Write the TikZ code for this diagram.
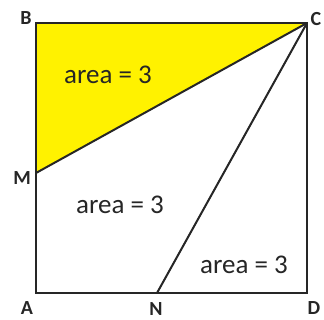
\documentclass[tikz,border=0pt]{standalone}
\usepackage{fontspec}
\setmainfont{Carlito}[BoldFont={Carlito Bold}]
\begin{document}
\begin{tikzpicture}[x=1pt,y=1pt,
  edge/.style={draw=black!85,line width=2.6pt,line join=miter},
  inner/.style={draw=black!85,line width=2pt},
  lbl/.style={font=\fontsize{20}{20}\selectfont\bfseries,text=black!85,inner sep=0pt},
  areatxt/.style={font=\fontsize{27}{27}\selectfont,text=black!85,inner sep=0pt}]
\useasboundingbox (0,0) rectangle (324,320);
\coordinate (A) at (36,27);
\coordinate (B) at (36,297);
\coordinate (C) at (307,297);
\coordinate (D) at (307,27);
\coordinate (M) at (36,147);
\coordinate (N) at (157,27);
\fill[yellow] (B) -- (C) -- (M) -- cycle;
\draw[inner] (M) -- (C);
\draw[inner] (N) -- (C);
\draw[edge] (A) -- (B) -- (C) -- (D) -- cycle;
\node[lbl] (lB) at (26,302) {B};
\node[lbl] (lC) at (316,301) {C};
\node[lbl] (lM) at (22,142) {M};
\node[lbl] (lA) at (27,12) {A};
\node[lbl] (lN) at (156,11) {N};
\node[lbl] (lD) at (314,12) {D};
\node[areatxt] (t1) at (108,245) {area = 3};
\node[areatxt] (t2) at (120,115) {area = 3};
\node[areatxt] (t3) at (244,55) {area = 3};
\end{tikzpicture}
\end{document}
